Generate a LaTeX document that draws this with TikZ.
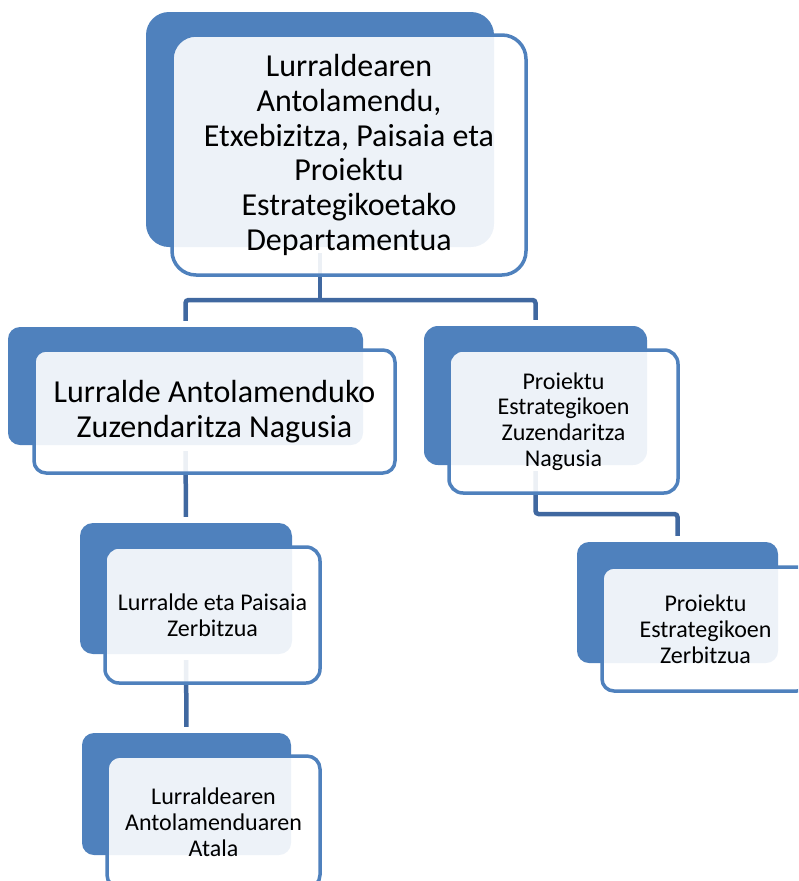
\documentclass[tikz,border=0pt]{standalone}
\usepackage{fontspec}
\setmainfont{Carlito}
\definecolor{accent}{HTML}{4F81BD}
\definecolor{conn}{HTML}{4068A0}
\tikzset{
  backbox/.style={fill=accent, rounded corners=#1, inner sep=0pt},
  frontbox/.style={draw=accent, line width=3.5pt, fill=white, fill opacity=0.9, text opacity=1,
    rounded corners=#1, align=center, inner sep=0pt, text=black},
  big/.style={font=\fontsize{32}{34.8}\selectfont},
  small/.style={font=\fontsize{24}{25.8}\selectfont},
  conline/.style={draw=conn, line width=4.5pt, rounded corners=3pt, shorten <=6pt, shorten >=6pt},
}
\begin{document}
\begin{tikzpicture}[x=1pt, y=-1pt]
\useasboundingbox (0,0) rectangle (798,881);
\clip (0,0) rectangle (798,881);
% back boxes
\node[backbox=23pt, minimum width=348pt, minimum height=235pt] (b1) at (320,129.5) {};
\node[backbox=12pt, minimum width=355pt, minimum height=118pt] (b2) at (185.5,386) {};
\node[backbox=14pt, minimum width=223pt, minimum height=139pt] (b3) at (535.5,395.5) {};
\node[backbox=13pt, minimum width=212pt, minimum height=131pt] (b4) at (186,588.5) {};
\node[backbox=12pt, minimum width=209pt, minimum height=122pt] (b5) at (186.5,794) {};
\node[backbox=12pt, minimum width=201pt, minimum height=121pt] (b6) at (677.5,602.5) {};
% connectors
\coordinate (j1) at (320,300);
\coordinate (j2) at (677.5,514);
\draw[conline, shorten >=0pt] (b1.south) -- (j1);
\draw[conline] (b2.north) |- (j1) -| (b3.north);
\draw[conline] (b2.south) -- (b4.north);
\draw[conline] (b4.south) -- (b5.north);
\draw[conline] (b3.south) |- (j2) -- (b6.north);
% front boxes
\node[frontbox=24pt, big, minimum width=354pt, minimum height=240pt] (f1) at (349,155)
  {Lurraldearen\\Antolamendu,\\Etxebizitza, Paisaia eta\\Proiektu\\Estrategikoetako\\Departamentua};
\node[frontbox=12pt, big, minimum width=361pt, minimum height=123pt] (f2) at (214.5,411.5)
  {Lurralde Antolamenduko\\Zuzendaritza Nagusia};
\node[frontbox=14pt, small, minimum width=229pt, minimum height=143pt] (f3) at (563.5,421.5)
  {Proiektu\\Estrategikoen\\Zuzendaritza\\Nagusia};
\node[frontbox=14pt, small, minimum width=215pt, minimum height=136pt] (f4) at (212.5,615)
  {Lurralde eta Paisaia\\Zerbitzua};
\node[frontbox=13pt, small, minimum width=213pt, minimum height=132pt] (f5) at (213.5,822)
  {Lurraldearen\\Antolamenduaren\\Atala};
\node[frontbox=12pt, small, minimum width=207pt, minimum height=124pt] (f6) at (705.5,629)
  {Proiektu\\Estrategikoen\\Zerbitzua};
\end{tikzpicture}
\end{document}
